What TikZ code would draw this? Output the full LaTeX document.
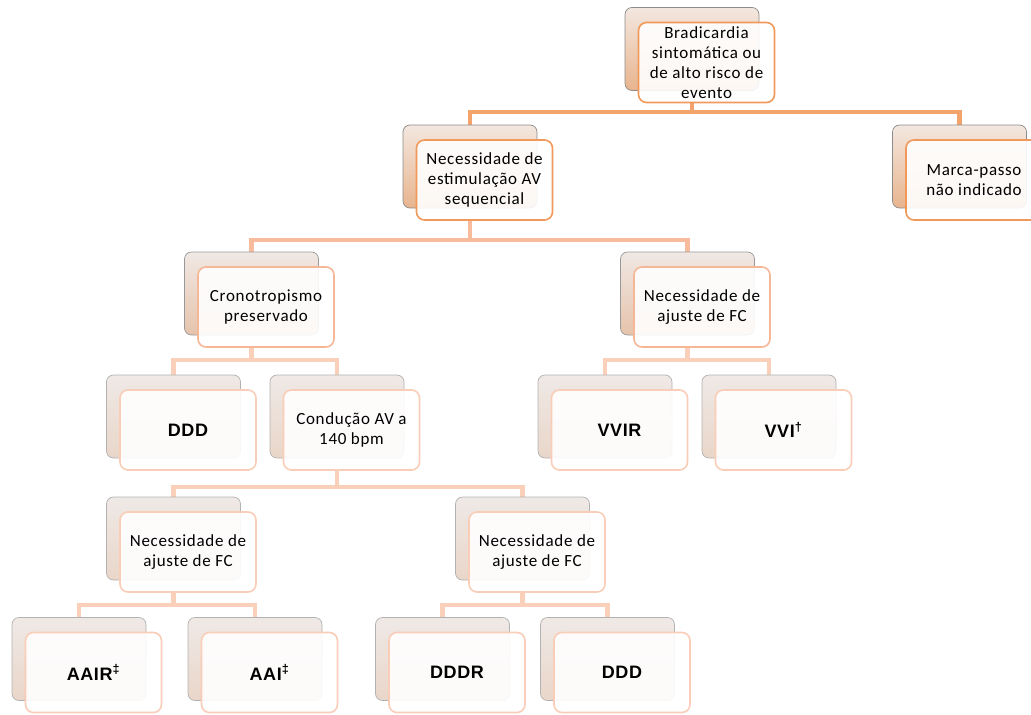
\documentclass[tikz,border=0pt]{standalone}
\usepackage{fontspec}
\setmainfont{Carlito}
\newfontfamily\boxfont{Carlito}[LetterSpace=4.0]
\newfontfamily\modefont{Liberation Sans}[LetterSpace=3.0]
\usetikzlibrary{backgrounds}

\definecolor{edgeA}{HTML}{F0995A}
\definecolor{edgeB}{HTML}{F6B796}
\definecolor{edgeC}{HTML}{F9CDB8}
\definecolor{connA}{HTML}{F4A36C}
\definecolor{connB}{HTML}{F8BC9C}
\definecolor{connC}{HTML}{FBD0BA}

\begin{document}
\begin{tikzpicture}[x=1pt,y=-1pt,
    backbox/.style={rounded corners=7pt, line width=0.7pt, minimum width=134pt, minimum height=83pt},
    backA/.style={backbox, draw=black!45, top color={rgb,255:red,243;green,231;blue,223}, bottom color={rgb,255:red,232;green,180;blue,142}},
    backB/.style={backbox, draw=black!40, top color={rgb,255:red,240;green,232;blue,228}, bottom color={rgb,255:red,230;green,195;blue,171}},
    backC/.style={backbox, draw=black!30, top color={rgb,255:red,239;green,233;blue,230}, bottom color={rgb,255:red,233;green,214;blue,201}},
    frontbox/.style={fill=white, fill opacity=0.9, text opacity=1, rounded corners=8pt, line width=1.6pt,
        minimum width=136pt, minimum height=80pt, align=center, xshift=14.5pt, yshift=-13.5pt,
        font={\boxfont\fontsize{17}{20}\selectfont}},
    frontA/.style={frontbox, draw=edgeA},
    frontB/.style={frontbox, draw=edgeB},
    frontC/.style={frontbox, draw=edgeC},
    modetext/.style={font={\modefont\bfseries\fontsize{18}{20}\selectfont}},
    connector/.style={line width=4.5pt, draw=#1}
]
    \useasboundingbox (0,0) rectangle (1031,715);

    % level 0 and 1
    \node[backA] (rootB) at (692,49) {};
    \node[frontA] (root) at (rootB) {Bradicardia\\sintomática ou\\de alto risco de\\evento};
    \node[backA] (necAVB) at (470,166.5) {};
    \node[frontA] (necAV) at (necAVB) {Necessidade de\\estimulação AV\\sequencial};
    \node[backA] (marcaB) at (959.5,166.5) {};
    \node[frontA] (marca) at (marcaB) {Marca-passo\\não indicado};

    % level 2
    \node[backB] (cronoB) at (251.5,293.5) {};
    \node[frontB] (crono) at (cronoB) {Cronotropismo\\preservado};
    \node[backB] (ajusteB) at (687.5,293.5) {};
    \node[frontB] (ajuste) at (ajusteB) {Necessidade de\\ajuste de FC};

    % level 3
    \node[backC] (dddB) at (173.5,416.5) {};
    \node[frontC, modetext] (ddd) at (dddB) {DDD};
    \node[backC] (condB) at (337,416.5) {};
    \node[frontC] (cond) at (condB) {Condução AV a\\140 bpm};
    \node[backC] (vvirB) at (605,416.5) {};
    \node[frontC, modetext] (vvir) at (vvirB) {VVIR};
    \node[backC] (vviB) at (769,416.5) {};
    \node[frontC, modetext] (vvi) at (vviB) {VVI\textsuperscript{†}};

    % level 4
    \node[backC] (ajusteLB) at (173.5,538.5) {};
    \node[frontC] (ajusteL) at (ajusteLB) {Necessidade de\\ajuste de FC};
    \node[backC] (ajusteRB) at (522.5,538.5) {};
    \node[frontC] (ajusteR) at (ajusteRB) {Necessidade de\\ajuste de FC};

    % level 5
    \node[backC] (aairB) at (79,659) {};
    \node[frontC, modetext] (aair) at (aairB) {AAIR\textsuperscript{‡}};
    \node[backC] (aaiB) at (255,659) {};
    \node[frontC, modetext] (aai) at (aaiB) {AAI\textsuperscript{‡}};
    \node[backC] (dddrB) at (442.5,659) {};
    \node[frontC, modetext] (dddr) at (dddrB) {DDDR};
    \node[backC] (dddtwoB) at (607.5,659) {};
    \node[frontC, modetext] (dddtwo) at (dddtwoB) {DDD};

    % bar heights
    \coordinate (barRoot) at (0,112);
    \coordinate (barNecAV) at (0,240);
    \coordinate (barLevel3) at (0,360);
    \coordinate (barCond) at (0,487);
    \coordinate (barLevel5) at (0,605);

    \begin{scope}[on background layer]
        \draw[connector=connA] (rootB.south |- root.south) |- (necAVB.north |- barRoot) -- (necAVB.north);
        \draw[connector=connA] (rootB.south |- root.south) |- (marcaB.north |- barRoot) -- (marcaB.north);
        \draw[connector=connB] (necAVB.south |- necAV.south) |- (cronoB.north |- barNecAV) -- (cronoB.north);
        \draw[connector=connB] (necAVB.south |- necAV.south) |- (ajusteB.north |- barNecAV) -- (ajusteB.north);
        \draw[connector=connC] (cronoB.south |- crono.south) |- (dddB.north |- barLevel3) -- (dddB.north);
        \draw[connector=connC] (cronoB.south |- crono.south) |- (condB.north |- barLevel3) -- (condB.north);
        \draw[connector=connC] (ajusteB.south |- ajuste.south) |- (vvirB.north |- barLevel3) -- (vvirB.north);
        \draw[connector=connC] (ajusteB.south |- ajuste.south) |- (vviB.north |- barLevel3) -- (vviB.north);
        \draw[connector=connC] (condB.south |- cond.south) |- (ajusteLB.north |- barCond) -- (ajusteLB.north);
        \draw[connector=connC] (condB.south |- cond.south) |- (ajusteRB.north |- barCond) -- (ajusteRB.north);
        \draw[connector=connC] (ajusteLB.south |- ajusteL.south) |- (aairB.north |- barLevel5) -- (aairB.north);
        \draw[connector=connC] (ajusteLB.south |- ajusteL.south) |- (aaiB.north |- barLevel5) -- (aaiB.north);
        \draw[connector=connC] (ajusteRB.south |- ajusteR.south) |- (dddrB.north |- barLevel5) -- (dddrB.north);
        \draw[connector=connC] (ajusteRB.south |- ajusteR.south) |- (dddtwoB.north |- barLevel5) -- (dddtwoB.north);
    \end{scope}
\end{tikzpicture}
\end{document}
